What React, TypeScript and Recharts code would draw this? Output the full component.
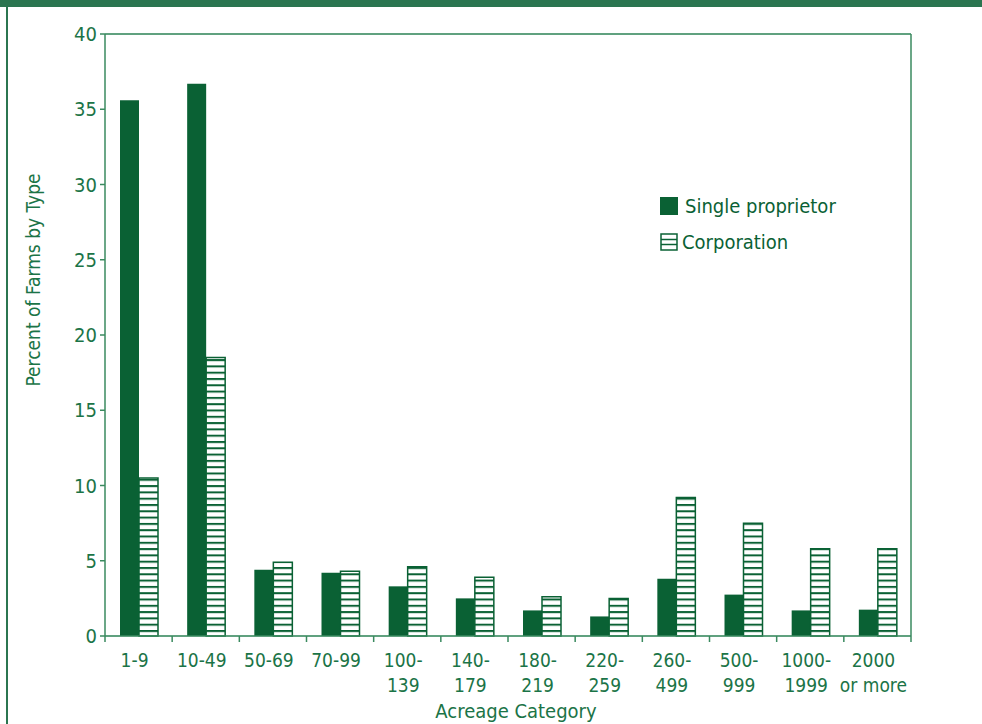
import React from 'react';
import {
  BarChart,
  Bar,
  XAxis,
  YAxis,
  CartesianGrid,
  ReferenceLine,
  Legend,
} from 'recharts';

const categories = [
  '1-9',
  '10-49',
  '50-69',
  '70-99',
  '100-139',
  '140-179',
  '180-219',
  '220-259',
  '260-499',
  '500-999',
  '1000-1999',
  '2000 or more',
];

// how each category label wraps under the axis
const tickLabelLines = [
  ['1-9'],
  ['10-49'],
  ['50-69'],
  ['70-99'],
  ['100-', '139'],
  ['140-', '179'],
  ['180-', '219'],
  ['220-', '259'],
  ['260-', '499'],
  ['500-', '999'],
  ['1000-', '1999'],
  ['2000', 'or more'],
];

const singleProprietor = [35.6, 36.7, 4.4, 4.2, 3.3, 2.5, 1.7, 1.3, 3.8, 2.75, 1.7, 1.75];
const corporation = [10.5, 18.5, 4.9, 4.3, 4.6, 3.9, 2.6, 2.5, 9.2, 7.5, 5.8, 5.8];

const yTicks = [0, 5, 10, 15, 20, 25, 30, 35, 40];

const DARK = '#0a6134';
const FRAME = '#3a8a5f';
const GRID = '#a8d0bb';
const TEXT = '#1b7447';
const FONT = '"Liberation Sans Narrow", "DejaVu Sans Condensed", "Open Sans", sans-serif';

const data = categories.map((category, i) => ({
  category,
  single: singleProprietor[i],
  corp: corporation[i],
}));

const CategoryTick = ({ x, y, payload }: any) => {
  const idx = categories.indexOf(payload.value);
  const lines = tickLabelLines[idx] || [payload.value];
  const half = payload.offset ?? 33.6;
  const isLast = idx === categories.length - 1;
  return (
    <g>
      <line x1={x - half} x2={x - half} y1={y} y2={y + 6} stroke={FRAME} strokeWidth={1.5} />
      {isLast && (
        <line x1={x + half} x2={x + half} y1={y} y2={y + 6} stroke={FRAME} strokeWidth={1.5} />
      )}
      {lines.map((ln: string, k: number) => (
        <text
          key={k}
          x={x - 4}
          y={y + 31 + k * 25}
          textAnchor="middle"
          fill={TEXT}
          fontSize={19}
        >
          {ln}
        </text>
      ))}
    </g>
  );
};

const CustomLegend = () => (
  <div style={{ color: DARK, fontSize: 20, lineHeight: '36px' }}>
    <div style={{ display: 'flex', alignItems: 'center' }}>
      <svg width={18} height={18} style={{ marginRight: 7 }}>
        <rect x={0} y={0} width={18} height={18} fill={DARK} />
      </svg>
      <span>Single proprietor</span>
    </div>
    <div style={{ display: 'flex', alignItems: 'center' }}>
      <svg width={18} height={18} style={{ marginRight: 4 }}>
        <rect x={1} y={1} width={16} height={16} fill="white" stroke={DARK} strokeWidth={1.5} />
        <line x1={1} x2={17} y1={6.5} y2={6.5} stroke={DARK} strokeWidth={1.5} />
        <line x1={1} x2={17} y1={11.5} y2={11.5} stroke={DARK} strokeWidth={1.5} />
      </svg>
      <span>Corporation</span>
    </div>
  </div>
);

export default function App() {
  return (
    <div
      style={{
        position: 'absolute',
        left: 0,
        top: 0,
        width: 982,
        height: 724,
        background: 'white',
        fontFamily: FONT,
        overflow: 'hidden',
      }}
    >
      <div style={{ position: 'absolute', left: 0, top: 0, width: 982, height: 7, background: '#2b7550' }} />
      <div style={{ position: 'absolute', left: 6, top: 7, width: 2, height: 717, background: '#2b7550' }} />
      <BarChart
        width={982}
        height={724}
        data={data}
        margin={{ top: 34, right: 70, left: 0, bottom: 0 }}
        barGap={0}
        barSize={19}
      >
        <defs>
          <pattern id="hstripes" patternUnits="userSpaceOnUse" width={10} height={6.3}>
            <rect x={0} y={0} width={10} height={6.3} fill="white" />
            <rect x={0} y={0} width={10} height={2} fill={DARK} />
          </pattern>
        </defs>
        <CartesianGrid vertical={false} stroke={GRID} strokeWidth={1.2} />
        <XAxis
          dataKey="category"
          interval={0}
          height={88}
          tickSize={0}
          tickMargin={0}
          tickLine={false}
          axisLine={{ stroke: FRAME, strokeWidth: 1.5 }}
          tick={<CategoryTick />}
          label={{
            value: 'Acreage Category',
            position: 'insideBottom',
            offset: 6,
            fill: TEXT,
            fontSize: 20,
            dx: 8,
          }}
        />
        <YAxis
          yAxisId="left"
          width={105}
          domain={[0, 40]}
          ticks={yTicks}
          interval={0}
          tickSize={5}
          tickMargin={3}
          tickLine={{ stroke: FRAME, strokeWidth: 1.5 }}
          axisLine={{ stroke: FRAME, strokeWidth: 1.5 }}
          tick={{ fill: TEXT, fontSize: 20 }}
          label={{
            content: () => (
              <text
                x={40}
                y={280}
                transform="rotate(-90 40 280)"
                textAnchor="middle"
                fill={TEXT}
                fontSize={19}
              >
                Percent of Farms by Type
              </text>
            ),
          }}
        />
        <YAxis
          yAxisId="right"
          orientation="right"
          width={1}
          domain={[0, 40]}
          tick={false}
          tickLine={false}
          axisLine={{ stroke: FRAME, strokeWidth: 1.5 }}
        />
        <ReferenceLine yAxisId="left" y={40} stroke={FRAME} strokeWidth={1.5} />
        <Legend
          layout="vertical"
          align="center"
          verticalAlign="middle"
          content={<CustomLegend />}
          wrapperStyle={{ position: 'absolute', left: 660, top: 188, width: 200 }}
        />
        <Bar
          yAxisId="left"
          dataKey="single"
          name="Single proprietor"
          fill={DARK}
          isAnimationActive={false}
        />
        <Bar
          yAxisId="left"
          dataKey="corp"
          name="Corporation"
          fill="url(#hstripes)"
          stroke={DARK}
          strokeWidth={1.5}
          isAnimationActive={false}
        />
      </BarChart>
    </div>
  );
}
